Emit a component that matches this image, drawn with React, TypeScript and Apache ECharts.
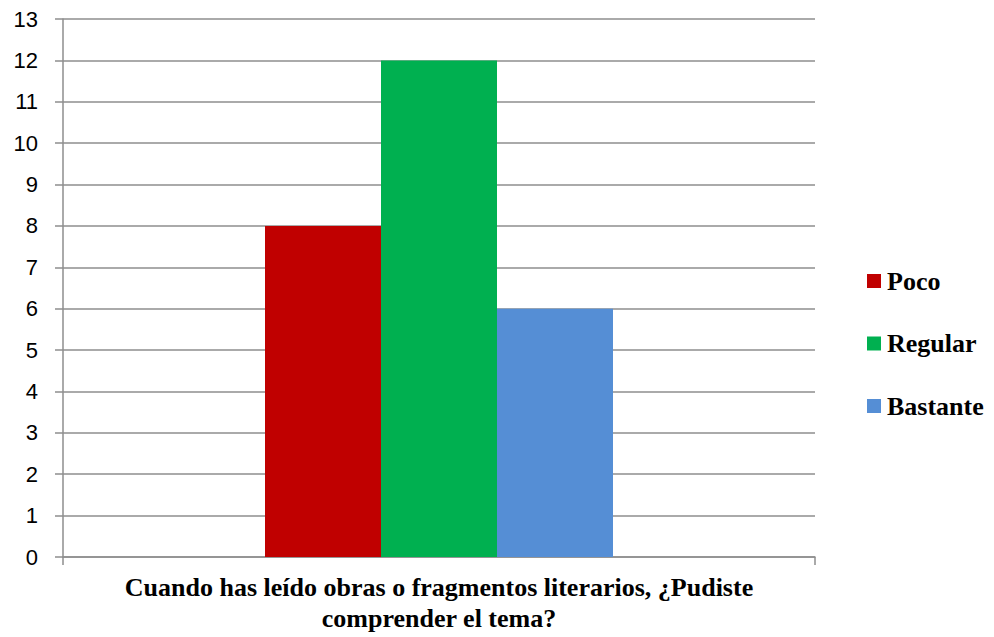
import React, { useEffect, useRef } from "react";
import * as echarts from "echarts";

const categories = ["Cuando has leído obras o fragmentos literarios, ¿Pudiste\ncomprender el tema?"];
const seriesNames = ["Poco", "Regular", "Bastante"];
const pocoValues = [8];
const regularValues = [12];
const bastanteValues = [6];
const seriesColors = ["#C00000", "#00B050", "#558ED5"];
const yMin = 0;
const yMax = 13;
const yInterval = 1;

const serifBold = "bold 26px Liberation Serif";

export default function App() {
  const ref = useRef<HTMLDivElement>(null);
  useEffect(() => {
    if (!ref.current) return;
    const chart = echarts.init(ref.current, null, { renderer: "svg" });
    const gray = "#8E8E8E";
    const valuesList = [pocoValues, regularValues, bastanteValues];
    const gridLeft = 63;
    const gridRight = 179;
    const plotW = 994 - gridLeft - gridRight;
    const legendGraphics = seriesNames.flatMap((name, i) => [
      {
        type: "rect",
        left: 867,
        top: 274 + i * 62.5,
        shape: { width: 14, height: 14 },
        style: { fill: seriesColors[i] },
      },
      {
        type: "text",
        x: 887,
        y: 281 + i * 62.5,
        style: {
          text: name,
          font: serifBold,
          fill: "#000",
          textAlign: "left",
          textVerticalAlign: "middle",
        },
      },
    ]);
    chart.setOption({
      animation: false,
      grid: { left: gridLeft, right: gridRight, top: 19, bottom: 80, containLabel: false },
      legend: { show: false, data: seriesNames },
      graphic: [
        ...legendGraphics,
        {
          type: "text",
          x: gridLeft + plotW / 2,
          y: 572,
          style: {
            text: categories[0],
            font: serifBold,
            lineHeight: 31,
            fill: "#000",
            textAlign: "center",
            textVerticalAlign: "top",
          },
        },
      ],
      xAxis: {
        type: "category",
        data: categories,
        axisLine: { show: true, lineStyle: { color: gray, width: 1.5 } },
        axisTick: { show: true, length: 8, lineStyle: { color: gray, width: 1.5 } },
        axisLabel: { show: false },
      },
      yAxis: {
        type: "value",
        min: yMin,
        max: yMax,
        interval: yInterval,
        axisLine: { show: true, lineStyle: { color: gray, width: 1.5 } },
        axisTick: { show: true, length: 8, lineStyle: { color: gray, width: 1.5 } },
        splitLine: { show: true, lineStyle: { color: gray, width: 1.5 } },
        axisLabel: {
          margin: 25,
          fontSize: 22,
          color: "#000",
        },
      },
      series: seriesNames.map((name, i) => ({
        name,
        type: "bar",
        data: valuesList[i],
        barWidth: 116,
        barGap: "0%",
        itemStyle: { color: seriesColors[i] },
      })),
    });
    return () => chart.dispose();
  }, []);
  return <div ref={ref} style={{ width: 994, height: 637, position: "absolute", left: 0, top: 0 }} />;
}
